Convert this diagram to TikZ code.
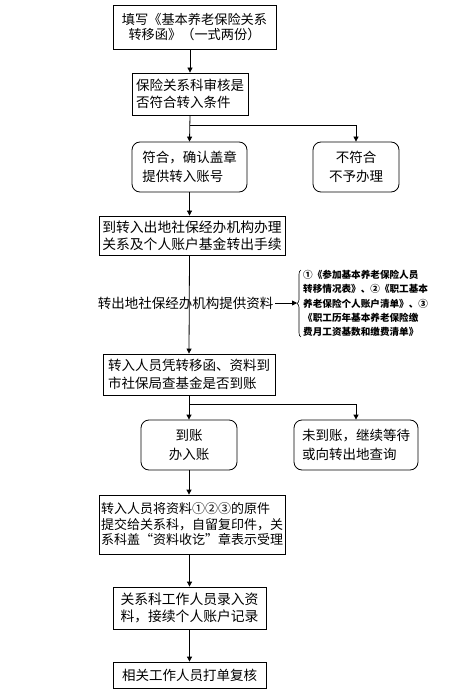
\documentclass[tikz,border=0pt]{standalone}
\usepackage{fontspec}
\setmainfont{Noto Sans CJK SC}
\usetikzlibrary{positioning,arrows.meta,calc,decorations.pathreplacing}

\begin{document}
\begin{tikzpicture}[x=1pt, y=-1pt, >={Triangle[width=5pt,length=5pt]},
  every node/.style={font=\fontsize{13.5}{17.5}\selectfont, align=center, inner sep=2pt},
  box/.style={draw, line width=0.8pt},
  rbox/.style={box, rounded corners=8pt},
  link/.style={->, line width=0.8pt}]
  \useasboundingbox (0,0) rectangle (472,692);
  % main column
  \node[box, minimum width=163pt, minimum height=44pt, font=\fontsize{13.2}{15}\selectfont]
      (fill) at (194.5,27) {填写《基本养老保险关系\\转移函》（一式两份）};
  \node[box, minimum width=116pt, minimum height=42pt, align=left]
      (check) at (190,94) {保险关系科审核是\\否符合转入条件};
  \node[rbox, minimum width=115pt, minimum height=50pt, align=left, font=\fontsize{13.5}{19}\selectfont]
      (yes) at (189.5,167) {符合，确认盖章\\提供转入账号};
  \node[rbox, minimum width=86pt, minimum height=50pt, font=\fontsize{13.5}{19}\selectfont]
      (no) at (356,167) {不符合\\不予办理};
  \node[box, minimum width=186pt, minimum height=39pt, align=left, font=\fontsize{13.8}{17}\selectfont]
      (out) at (192,235.5) {到转入出地社保经办机构办理\\关系及个人账户基金转出手续};
  \node (mid) at (185.5,303) {转出地社保经办机构提供资料};
  \node[anchor=west, align=left, inner sep=1pt, font=\fontsize{9.6}{14.3}\bfseries\selectfont]
      (docs) at (302,303.5) {①《参加基本养老保险人员\\转移情况表》、②《职工基本\\养老保险个人账户清单》、③\\《职工历年基本养老保险缴\\费月工资基数和缴费清单》};
  \node[box, minimum width=172pt, minimum height=41pt, align=left]
      (query) at (189,374.5) {转入人员凭转移函、资料到\\市社保局查基金是否到账};
  \node[rbox, minimum width=96pt, minimum height=50pt, font=\fontsize{13.5}{19}\selectfont]
      (arrived) at (189,445) {到账\\办入账};
  \node[rbox, minimum width=124pt, minimum height=50pt, align=left, font=\fontsize{13.5}{19}\selectfont]
      (notyet) at (356,445) {未到账，继续等待\\或向转出地查询};
  \node[box, minimum width=184pt, minimum height=59pt, align=left, font=\fontsize{13}{15.5}\selectfont]
      (submit) at (192,524.5) {转入人员将资料①②③的原件\\提交给关系科，自留复印件，关\\系科盖“资料收讫”章表示受理};
  \node[box, minimum width=153pt, minimum height=42pt, align=left, font=\fontsize{13.8}{17}\selectfont]
      (enter) at (189.5,608) {关系科工作人员录入资\\料，接续个人账户记录};
  \node[box, minimum width=153pt, minimum height=26pt]
      (print) at (189.5,675) {相关工作人员打单复核};
  % arrows
  \draw[link] (check.north |- fill.south) -- (check.north);
  \draw[link] (check.south) -- (yes.north);
  \draw[link] (check.south) ++(0,10) -| (no.north);
  \draw[link] (yes.south) -- (yes.south |- out.north);
  \draw[link] (yes.south |- out.south) -- (query.north);
  \draw[decorate, decoration={brace, amplitude=4pt}, line width=0.6pt]
      ($(docs.south west)+(-1,-1)$) -- ($(docs.north west)+(-1,1)$);
  \coordinate (tip) at ($(docs.west)+(-5,0)$);
  \draw[link] (mid.east) -- (mid.east -| tip);
  \draw[link] (query.south -| arrived.north) -- (arrived.north);
  \draw[link] (query.south -| arrived.north) ++(0,9) -| (notyet.north);
  \draw[link] (arrived.south) -- (arrived.south |- submit.north);
  \draw[link] (enter.north |- submit.south) -- (enter.north);
  \draw[link] (enter.south) -- (print.north);
\end{tikzpicture}
\end{document}
